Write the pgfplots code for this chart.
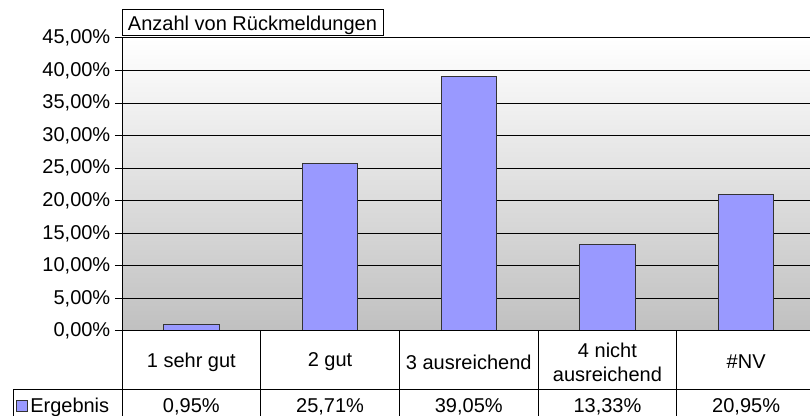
\documentclass[border=0pt]{standalone}
\usepackage{fontspec}
\setmainfont{Liberation Sans}
\usepackage{pgfplots}
\pgfplotsset{compat=1.18}
\definecolor{barblue}{RGB}{153,153,255}
\definecolor{bgbottom}{RGB}{192,192,192}
\begin{document}
\begin{tikzpicture}[x=0.75pt,y=0.75pt, font=\fontsize{15}{18}\selectfont]
\path[use as bounding box] (0,0) rectangle (810,416);
\begin{axis}[
  at={(91.5pt,63.75pt)}, anchor=south west,
  scale only axis, width=520.125pt, height=219.75pt,
  xmin=-0.5, xmax=4.5, ymin=0, ymax=45,
  clip=false,
  ytick={0,5,...,45},
  xtick={0,1,2,3,4},
  xticklabels={1 sehr gut, 2 gut, 3 ausreichend, {4 nicht\\ausreichend}, \#NV},
  tick label style={font=\fontsize{15}{18}\selectfont},
  x tick label style={align=center, anchor=center, yshift=-18pt},
  major x tick style={draw=none},
  yticklabel={\pgfmathprintnumber{\tick}\%},
  /pgf/number format/.cd, fixed, fixed zerofill, precision=2, use comma, 1000 sep={}, assume math mode=true,
  /pgfplots/.cd,
  tick align=outside,
  major tick length=5.25pt,
  y tick style={black, line width=0.75pt},
  ymajorgrids,
  grid style={black, line width=0.75pt},
  axis line style={draw=none},
  axis background/.style={top color=white, bottom color=bgbottom},
]
\addplot[ybar, bar width=0.4, fill=barblue, draw=black!80, line width=0.75pt]
  coordinates {(0,0.95) (1,25.71) (2,39.05) (3,13.33) (4,20.95)};
\draw[black, line width=0.75pt] (axis cs:-0.5,45) -- (axis cs:-0.5,0) -- (axis cs:4.5,0);
\end{axis}
% data table
\draw[black, line width=0.75pt] (13,0) -- (13,26) -- (815.5,26);
\foreach \xx in {122,260.7,399.4,538.1,676.8}{
  \draw[black, line width=0.75pt] (\xx,85) -- (\xx,0);
}
\draw[fill=barblue, draw=black!80, line width=0.75pt] (16,4.5) rectangle (27,15.5);
\node[anchor=base west, inner sep=0pt] at (30,3) {Ergebnis};
\node[anchor=base, inner sep=0pt] at (191.35,3) {0,95\%};
\node[anchor=base, inner sep=0pt] at (330.05,3) {25,71\%};
\node[anchor=base, inner sep=0pt] at (468.75,3) {39,05\%};
\node[anchor=base, inner sep=0pt] at (607.45,3) {13,33\%};
\node[anchor=base, inner sep=0pt] at (746.15,3) {20,95\%};
% title box
\draw[black, fill=white, line width=0.75pt] (122,380) rectangle (383,406);
\node[anchor=base, inner sep=0pt] at (252.5,385) {Anzahl von Rückmeldungen};
\end{tikzpicture}
\end{document}
